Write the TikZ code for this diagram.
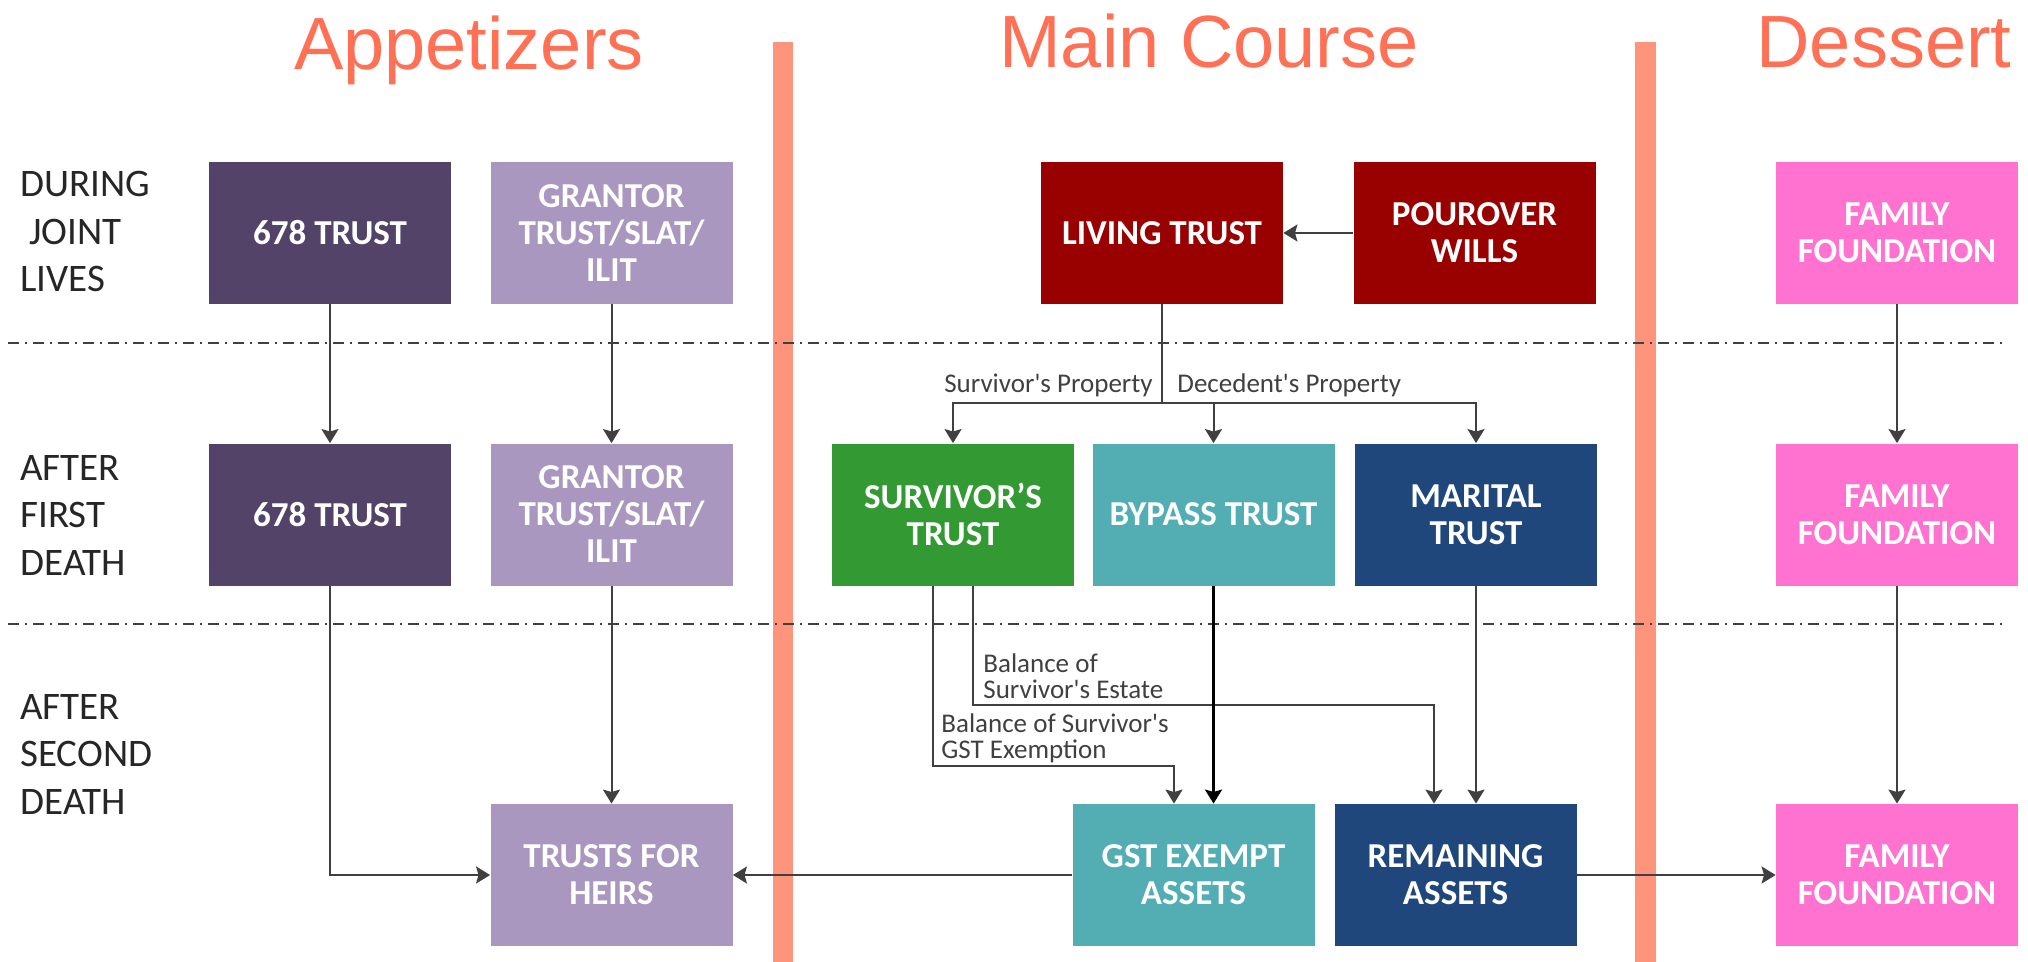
\documentclass[tikz,border=0pt]{standalone}
\usepackage{fontspec}
\setmainfont{Carlito}
\newfontfamily\labfont{Carlito}
\newfontfamily\titlefont{Liberation Sans}
\usetikzlibrary{arrows.meta}
\definecolor{coral}{RGB}{255,112,85}
\definecolor{barc}{RGB}{255,148,125}
\definecolor{cdark}{RGB}{84,67,105}
\definecolor{clav}{RGB}{169,151,191}
\definecolor{cred}{RGB}{153,0,0}
\definecolor{cpink}{RGB}{255,114,207}
\definecolor{cgreen}{RGB}{51,153,51}
\definecolor{cteal}{RGB}{82,174,179}
\definecolor{cnavy}{RGB}{32,71,124}
\definecolor{cline}{RGB}{64,64,64}
\definecolor{ctext}{RGB}{38,38,38}
\begin{document}
\begin{tikzpicture}[x=0.5pt,y=-0.5pt,
  box/.style={rectangle, minimum width=121pt, minimum height=71pt, inner sep=0pt,
    text=white, font=\bfseries\fontsize{17.5}{18.5}\selectfont, align=center},
  conn/.style={draw=cline, line width=1pt, -{Stealth[length=7pt,width=8.5pt,inset=1.2pt]}},
  connb/.style={draw=black, line width=1.4pt, -{Stealth[length=7pt,width=8.5pt,inset=1.2pt]}},
  plain/.style={draw=cline, line width=1pt},
  title/.style={text=coral, font=\titlefont\fontsize{37}{40}\selectfont, anchor=base, inner sep=0pt},
  rowlab/.style={text=ctext, font=\labfont\fontsize{19.5}{23.75}\selectfont, align=left, anchor=base west, inner sep=0pt},
  flowlab/.style={text=cline, font=\labfont\fontsize{13.5}{13}\selectfont, inner sep=0pt},
  sep/.style={draw=cline, line width=0.75pt, dash pattern=on 5.5pt off 3pt on 1pt off 3pt},
  bar/.style={fill=barc, draw=none}
]
\useasboundingbox (0,0) rectangle (2028,962);
% bars
\fill[bar] (773,42) rectangle (793,962);
\fill[bar] (1635,42) rectangle (1656,962);
% titles
\node[title] (tapp) at (469,70) {Appetizers};
\node[title] (tmain) at (1209,68) {Main Course};
\node[title] (tdes) at (1884,68) {Dessert};
% separators
\coordinate (sepa1) at (8,343); \coordinate (sepa2) at (2004,343);
\coordinate (sepb1) at (8,624); \coordinate (sepb2) at (2004,624);
\draw[sep] (sepa1) -- (sepa2);
\draw[sep] (sepb1) -- (sepb2);
% row labels (anchor = baseline of last line)
\node[rowlab] (r1) at (20,292) {DURING\\\ JOINT\\LIVES};
\node[rowlab] (r2) at (20,575) {AFTER\\FIRST\\DEATH};
\node[rowlab] (r3) at (20,814) {AFTER\\SECOND\\DEATH};
% row 1
\node[box, fill=cdark] (ta) at (330,233) {678 TRUST};
\node[box, fill=clav] (ga) at (611.5,233) {GRANTOR\\TRUST/SLAT/\\ILIT};
\node[box, fill=cred] (liv) at (1162,233) {LIVING TRUST};
\node[box, fill=cred] (pour) at (1474.5,233) {POUROVER\\WILLS};
\node[box, fill=cpink] (ffa) at (1897,233) {FAMILY\\FOUNDATION};
% row 2
\node[box, fill=cdark] (tb) at (330,514.5) {678 TRUST};
\node[box, fill=clav] (gb) at (611.5,514.5) {GRANTOR\\TRUST/SLAT/\\ILIT};
\node[box, fill=cgreen] (surv) at (953,514.5) {SURVIVOR’S\\TRUST};
\node[box, fill=cteal] (byp) at (1213.5,514.5) {BYPASS TRUST};
\node[box, fill=cnavy] (mar) at (1476,514.5) {MARITAL\\TRUST};
\node[box, fill=cpink] (ffb) at (1897,514.5) {FAMILY\\FOUNDATION};
% row 3
\node[box, fill=clav] (heirs) at (611.5,875) {TRUSTS FOR\\HEIRS};
\node[box, fill=cteal] (gst) at (1193.5,875) {GST EXEMPT\\ASSETS};
\node[box, fill=cnavy] (rem) at (1455.5,875) {REMAINING\\ASSETS};
\node[box, fill=cpink] (ffc) at (1897,875) {FAMILY\\FOUNDATION};
% connectors
\draw[conn] (ta) -- (tb);
\draw[conn] (ga) -- (gb);
\draw[conn] (pour) -- (liv);
\draw[conn] (ffa) -- (ffb);
\draw[conn] (ffb) -- (ffc);
\draw[conn] (gb) -- (heirs);
\draw[conn] (tb) |- (heirs);
\draw[conn] (gst) -- (heirs);
\draw[conn] (rem) -- (ffc);
% living trust split
\coordinate (split) at (1162,403);
\draw[plain] (liv) -- (split);
\draw[conn] (split) -| (surv);
\draw[conn] (split) -| (mar);
\draw[conn] (byp.north |- split) -- (byp);
\node[flowlab, anchor=base east] (lsp) at (1153,393) {Survivor's Property};
\node[flowlab, anchor=base west] (ldp) at (1177,393) {Decedent's Property};
% survivor's trust outputs
\coordinate (g1) at (932.5,766);
\coordinate (g2) at (1174,766);
\draw[conn] (surv.south -| g1) -- (g1) -- (g2) -- (gst.north -| g2);
\coordinate (e1) at (973,705);
\coordinate (e2) at (1434,705);
\draw[conn] (surv.south -| e1) -- (e1) -- (e2) -- (rem.north -| e2);
\node[flowlab, anchor=base west, align=left] (lbe) at (983,698) {Balance of\\Survivor's Estate};
\node[flowlab, anchor=base west, align=left] (lbg) at (941,758) {Balance of Survivor's\\GST Exemption};
% bypass and marital
\draw[connb] (byp) -- (byp.south |- gst.north);
\draw[conn] (mar) -- (mar.south |- rem.north);
\end{tikzpicture}
\end{document}
